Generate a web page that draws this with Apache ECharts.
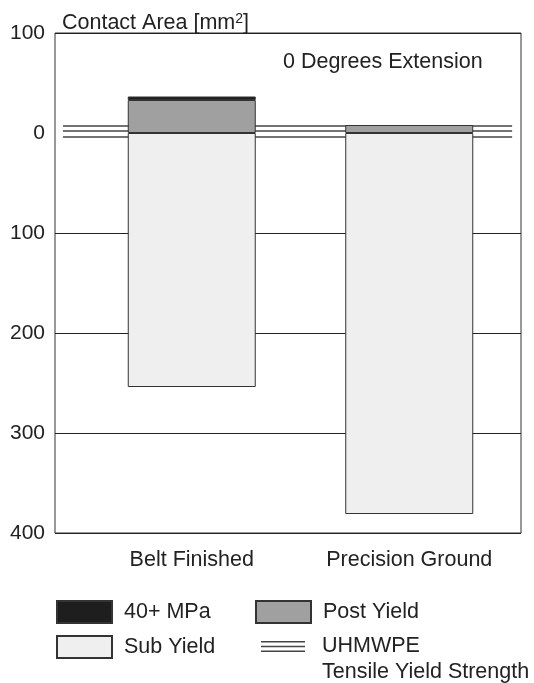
<!DOCTYPE html>
<html>
<head>
<meta charset="utf-8">
<script src="https://cdn.jsdelivr.net/npm/echarts@6/dist/echarts.min.js"></script>
<style>
  html, body { margin: 0; padding: 0; background: #fff; }
  #chart { width: 534px; height: 683px; }
</style>
</head>
<body>
<div id="chart"></div>
<script>
const categories = ['Belt Finished', 'Precision Ground'];
const subYield = [254, 381];
const postYield = [-33, -8];
const mpa40 = [-3.5, '-'];
const uhmwpeLevels = [-7, -2, 4];
const uhmwpeSpan = [0.017, 0.981];
const yLabels = [-100, 0, 100, 200, 300, 400];
const yGrid = [-100, 100, 200, 300, 400];

const FONT = 'Liberation Sans, Arial, sans-serif';
const TXT = '#222';
const FS = 21.5;
const uhmwpeName = 'UHMWPE\nTensile Yield Strength';

const barStyle = (color) => ({ color: color, borderColor: '#333', borderWidth: 1 });

// the three yield-strength lines sit on the frame grid, under the bars
const lineSeries = uhmwpeLevels.map((lv) => ({
  name: uhmwpeName,
  type: 'line',
  xAxisIndex: 0,
  yAxisIndex: 0,
  z: 1,
  silent: true,
  symbol: 'none',
  itemStyle: { color: '#444' },
  lineStyle: { color: '#444', width: 1.6 },
  data: uhmwpeSpan.map((x) => [x, lv]),
}));

const legendBase = {
  selectedMode: false,
  padding: 0,
  icon: 'rect',
  itemWidth: 55,
  itemHeight: 22,
  textStyle: { fontFamily: FONT, fontSize: FS, color: TXT, padding: [0, 0, 0, 7] },
};

const option = {
  animation: false,
  title: [
    {
      text: 'Contact Area [mm{s|2}]',
      left: 62,
      top: 12,
      padding: 0,
      textStyle: {
        fontFamily: FONT, fontSize: FS, fontWeight: 'normal', color: TXT,
        rich: { s: { fontFamily: FONT, fontSize: 14, color: TXT, verticalAlign: 'top', padding: [0, 0, 9, 0] } },
      },
    },
    {
      text: '0 Degrees Extension',
      left: 283,
      top: 51,
      padding: 0,
      textStyle: { fontFamily: FONT, fontSize: FS, fontWeight: 'normal', color: TXT },
    },
  ],
  legend: [
    Object.assign({}, legendBase, { left: 56, top: 600, data: ['40+ MPa'] }),
    Object.assign({}, legendBase, { left: 255, top: 600, data: ['Post Yield'] }),
    Object.assign({}, legendBase, { left: 56, top: 635, data: ['Sub Yield'] }),
    Object.assign({}, legendBase, {
      left: 261, top: 633,
      itemWidth: 44, itemHeight: 36,
      data: [{ name: uhmwpeName, icon: 'path://M0,0H44V1.6H0Z M0,4.7H44V6.3H0Z M0,9.4H44V11H0Z M0,35.9H0.01V36H0Z' }],
      textStyle: { fontFamily: FONT, fontSize: FS, color: TXT, lineHeight: 26, padding: [0, 0, 0, 12] },
    }),
  ],
  grid: [
    {
      left: 55, right: 13, top: 33, bottom: 150,
      show: true, borderColor: '#333', borderWidth: 1, backgroundColor: 'transparent',
    },
    { left: 83, right: 16, top: 33, bottom: 150 },
  ],
  xAxis: [
    { gridIndex: 0, type: 'value', min: 0, max: 1, show: false },
    {
      gridIndex: 1,
      type: 'category',
      data: categories,
      axisLine: { show: false },
      axisTick: { show: false },
      splitLine: { show: false },
      axisLabel: { fontFamily: FONT, fontSize: FS, color: TXT, margin: 16 },
    },
  ],
  yAxis: [
    {
      gridIndex: 0,
      type: 'value',
      inverse: true,
      min: -100,
      max: 400,
      axisLine: { show: false },
      axisTick: { show: false, customValues: yGrid },
      splitLine: { show: true, lineStyle: { color: '#222', width: 1 } },
      axisLabel: {
        customValues: yLabels,
        formatter: (v) => String(Math.abs(v)),
        fontFamily: FONT, fontSize: 21, color: TXT, margin: 10,
      },
    },
    { gridIndex: 1, type: 'value', inverse: true, min: -100, max: 400, show: false },
  ],
  series: [
    {
      name: 'Sub Yield', type: 'bar', stack: 'a', barWidth: 128,
      xAxisIndex: 1, yAxisIndex: 1,
      itemStyle: barStyle('#efefef'), data: subYield,
    },
    {
      name: 'Post Yield', type: 'bar', stack: 'a', barWidth: 128,
      xAxisIndex: 1, yAxisIndex: 1,
      itemStyle: barStyle('#a0a0a0'), data: postYield,
    },
    {
      name: '40+ MPa', type: 'bar', stack: 'a', barWidth: 128,
      xAxisIndex: 1, yAxisIndex: 1,
      itemStyle: barStyle('#1e1e1e'), data: mpa40,
    },
  ].concat(lineSeries),
};

const chart = echarts.init(document.getElementById('chart'), null, { renderer: 'canvas' });
chart.setOption(option);
</script>
</body>
</html>
